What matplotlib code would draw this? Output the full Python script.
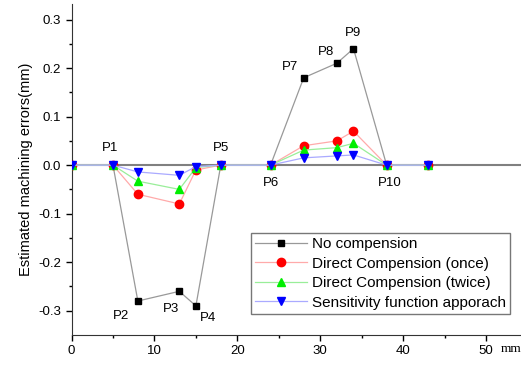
import matplotlib.pyplot as plt
import numpy as np

x = [0, 5, 8, 13, 15, 18, 24, 28, 32, 34, 38, 43]
no_comp = [0, 0, -0.28, -0.26, -0.29, 0, 0, 0.18, 0.21, 0.24, 0, 0]
once = [0, 0, -0.06, -0.08, -0.01, 0, 0, 0.04, 0.05, 0.07, 0, 0]
twice = [0, 0, -0.033, -0.05, -0.005, 0, 0, 0.031, 0.036, 0.045, 0, 0]
sens = [0, 0, -0.014, -0.021, -0.003, 0, 0, 0.015, 0.019, 0.021, 0, 0]
labels = ["No compension", "Direct Compension (once)",
          "Direct Compension (twice)", "Sensitivity function apporach"]
point_names = ["P1", "P2", "P3", "P4", "P5", "P6", "P7", "P8", "P9", "P10"]
point_idx = [1, 2, 3, 4, 5, 6, 7, 8, 9, 10]
# label offsets in points
offs = [(-2, 12), (-12, -11), (-6, -13), (9, -9), (0, 12), (0, -13),
        (-10, 8), (-8, 8), (0, 11), (2, -13)]

plt.rcParams['font.family'] = ['Liberation Sans', 'DejaVu Sans']
fig = plt.figure(figsize=(5.21, 3.66), dpi=100)
ax = fig.add_axes([71.5/521, 31/366, 1 - 71.5/521, 331/366])

ax.axhline(0, color="#808080", lw=1.5, zorder=1)
ax.plot(x, no_comp, color="#999999", lw=0.9, marker="s", ms=5,
        mfc="black", mec="black", label=labels[0], zorder=3)
ax.plot(x, once, color="#ffaaaa", lw=0.9, marker="o", ms=6,
        mfc="red", mec="red", label=labels[1], zorder=4)
ax.plot(x, twice, color="#99ee99", lw=0.9, marker="^", ms=6,
        mfc="#00ee00", mec="#00ee00", label=labels[2], zorder=5)
ax.plot(x, sens, color="#aaaaff", lw=0.9, marker="v", ms=6,
        mfc="blue", mec="blue", label=labels[3], zorder=6)

for name, i, o in zip(point_names, point_idx, offs):
    ax.annotate(name, (x[i], no_comp[i]), xytext=o, textcoords="offset points",
                ha="center", va="center", fontsize=9.5)

ax.set_xlim(0, 54.2)
ax.set_ylim(-0.35, 0.332)
ax.set_xticks([0, 10, 20, 30, 40, 50])
ax.set_xticks([5, 15, 25, 35, 45], minor=True)
ax.set_yticks([-0.3, -0.2, -0.1, 0.0, 0.1, 0.2, 0.3])
ax.set_yticks([-0.25, -0.15, -0.05, 0.05, 0.15, 0.25], minor=True)
ax.set_yticklabels(["-0.3", "-0.2", "-0.1", "0.0", "0.1", "0.2", "0.3"])
ax.tick_params(which="major", direction="out", length=4, width=1, labelsize=9.5)
ax.tick_params(which="minor", direction="out", length=2.5, width=1)
ax.spines["top"].set_visible(False)
ax.spines["right"].set_visible(False)
ax.spines["left"].set_color("#333333")
ax.spines["bottom"].set_color("#333333")
ax.set_ylabel("Estimated machining errors(mm)", fontsize=10.5, labelpad=4)
ax.text(51.8, -0.3785, "mm", family="Liberation Serif", fontsize=9.5,
        ha="left", va="center", clip_on=False)

leg = ax.legend(loc="lower right", bbox_to_anchor=(0.993, 0.04), fontsize=11,
                frameon=True, fancybox=False, edgecolor="#555555",
                borderpad=0.3, labelspacing=0.35, handlelength=3.4,
                handletextpad=0.3)
leg.get_frame().set_linewidth(1)

plt.savefig("out.png", dpi=100)
